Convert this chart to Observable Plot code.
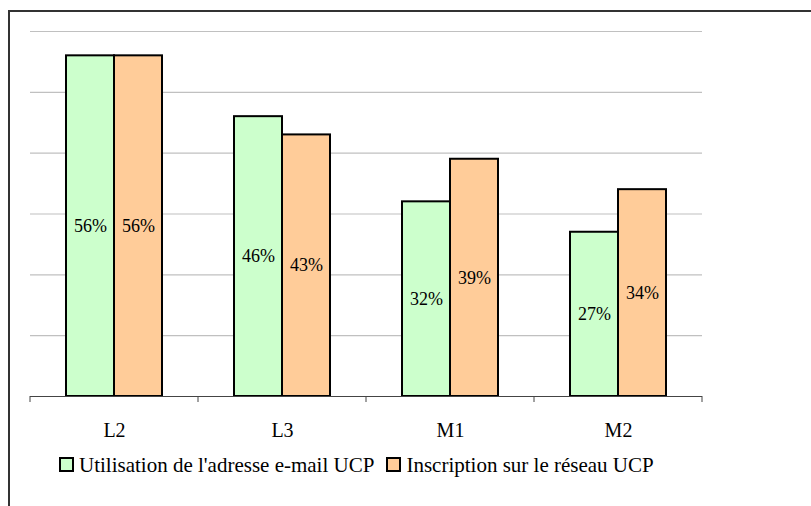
<!DOCTYPE html>
<html>
<head>
<meta charset="utf-8">
<script src="https://cdn.jsdelivr.net/npm/d3@7"></script>
<script src="https://cdn.jsdelivr.net/npm/@observablehq/plot@0.6"></script>
<style>
  html, body { margin: 0; padding: 0; background: #fff; overflow: hidden; width: 811px; height: 506px; }
  #frame { position: absolute; left: 8px; top: 10px; width: 900px; height: 600px; border: 2px solid #333; box-sizing: border-box; }
  #chart { position: absolute; left: 0; top: 0; }
  #legend { position: absolute; left: 59px; top: 453px; white-space: nowrap; line-height: normal;
            font-family: "Liberation Serif", "Times New Roman", serif; font-size: 21px; color: #000; }
  .sw { display: inline-block; width: 11px; height: 11px; border: 2px solid #000; margin-right: 5px; vertical-align: baseline; }
  .item { display: inline-block; margin-right: 12px; }
</style>
</head>
<body>
<div id="frame"></div>
<div id="chart"></div>
<div id="legend"></div>
<script>
const categories = ["L2", "L3", "M1", "M2"];
const seriesNames = ["Utilisation de l'adresse e-mail UCP", "Inscription sur le réseau UCP"];
const emailValues = [56, 46, 32, 27];
const reseauValues = [56, 43, 39, 34];
const seriesColors = ["#ccffcc", "#ffcc99"];
const yTicks = [10, 20, 30, 40, 50, 60];

const table = [];
categories.forEach((c, i) => {
  table.push({cat: c, series: seriesNames[0], value: emailValues[i]});
  table.push({cat: c, series: seriesNames[1], value: reseauValues[i]});
});

const font = '"Liberation Serif", "Times New Roman", serif';

const plot = Plot.plot({
  width: 811,
  height: 445,
  marginLeft: 29,
  marginRight: 109,
  marginTop: 31,
  marginBottom: 49,
  style: {fontFamily: font, fontSize: "18px", background: "transparent"},
  fx: {domain: categories, padding: 0, label: null, axis: null},
  x: {domain: seriesNames, paddingInner: 0, paddingOuter: 0.7345, axis: null},
  y: {domain: [0, 60], axis: null},
  color: {domain: seriesNames, range: seriesColors},
  marks: [
    Plot.ruleY(yTicks, {stroke: "#c0c0c0", strokeWidth: 1.2, strokeOpacity: 1}),
    Plot.barY(table, {fx: "cat", x: "series", y: "value", fill: "series", stroke: "#000", strokeWidth: 2}),
    Plot.text(table, {fx: "cat", x: "series", y: d => d.value / 2, text: d => d.value + "%", fill: "#000", fontSize: 18, fontFamily: font}),
    Plot.ruleY([0], {stroke: "#444", strokeWidth: 1}),
    Plot.axisFx({anchor: "bottom", tickSize: 0, tickPadding: 26, label: null, fontSize: 20, fontFamily: font, fill: "#000"})
  ]
});

document.getElementById("chart").appendChild(plot);

// category boundary ticks on the x axis (Excel style), from the library's fx scale
const fx = plot.scale("fx");
const y = plot.scale("y");
const y0 = y.apply(0);
const bounds = categories.map(c => fx.apply(c)).concat([fx.apply(categories[categories.length - 1]) + fx.bandwidth]);
d3.select(plot).append("g")
  .selectAll("line").data(bounds).join("line")
  .attr("x1", d => d).attr("x2", d => d)
  .attr("y1", y0).attr("y2", y0 + 6)
  .attr("stroke", "#444").attr("stroke-width", 1);

// legend
const legend = d3.select("#legend");
seriesNames.forEach((s, i) => {
  const item = legend.append("span").attr("class", "item");
  item.append("span").attr("class", "sw").style("background", seriesColors[i]);
  item.append("span").text(s);
});
</script>
</body>
</html>
